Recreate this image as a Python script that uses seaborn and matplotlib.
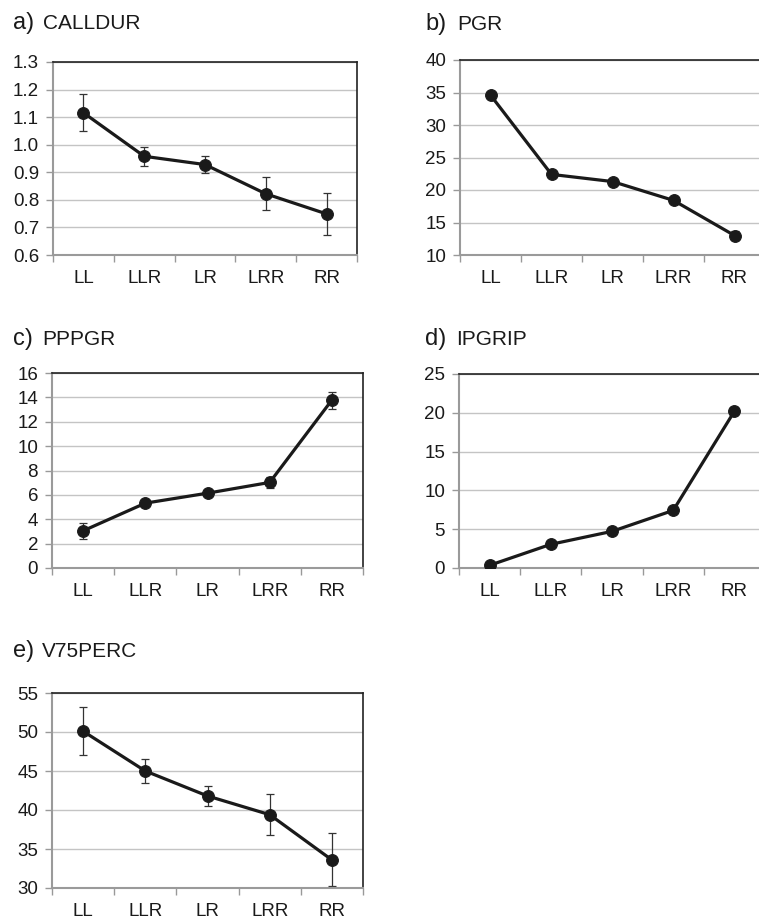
import numpy as np
import pandas as pd
import matplotlib
matplotlib.use("Agg")
import matplotlib.pyplot as plt
import seaborn as sns

sns.set_style("white")
plt.rcParams['font.family'] = ['Liberation Sans', 'DejaVu Sans']

# data (group means and error bar half-widths)
groups = ['LL', 'LLR', 'LR', 'LRR', 'RR']

calldur = [1.116, 0.958, 0.928, 0.822, 0.749]
calldur_err = [0.067, 0.035, 0.032, 0.060, 0.075]

pgr = [34.6, 22.4, 21.3, 18.4, 13.0]
pgr_err = [0.5, 0.3, 0.3, 0.4, 0.7]

pppgr = [3.05, 5.32, 6.14, 7.02, 13.78]
pppgr_err = [0.65, 0.25, 0.25, 0.45, 0.7]

ipgrip = [0.35, 3.05, 4.72, 7.42, 20.2]
ipgrip_err = [0.25, 0.3, 0.3, 0.35, 0.5]

v75perc = [50.1, 45.0, 41.8, 39.4, 33.6]
v75perc_err = [3.05, 1.6, 1.3, 2.6, 3.4]

W, H = 759, 919
fig = plt.figure(figsize=(W / 100, H / 100), dpi=100)

# letter, name, values, errors, y limits, y step, tick format, axes box (px), title pos (px)
panels = [
    ('a)', 'CALLDUR', calldur, calldur_err, (0.6, 1.3), 0.1, '{:.1f}', (53, 62, 357, 255), (13, 43, 29)),
    ('b)', 'PGR', pgr, pgr_err, (10, 40), 5, '{:.0f}', (460, 60, 765, 255), (425, 457, 30)),
    ('c)', 'PPPGR', pppgr, pppgr_err, (0, 16), 2, '{:.0f}', (52, 373, 363, 568), (13, 42, 345)),
    ('d)', 'IPGRIP', ipgrip, ipgrip_err, (0, 25), 5, '{:.0f}', (459, 374, 765, 568), (425, 456, 345)),
    ('e)', 'V75PERC', v75perc, v75perc_err, (30, 55), 5, '{:.0f}', (52, 693, 363, 888), (13, 42, 657)),
]

for letter, name, vals, errs, ylim, step, fmt, box, tpos in panels:
    l, t, r, b = box
    ax = fig.add_axes([l / W, 1 - b / H, (r - l) / W, (b - t) / H])
    df = pd.DataFrame({'x': np.arange(len(groups)), 'y': vals, 'err': errs})

    ax.errorbar(df['x'], df['y'], yerr=df['err'], fmt='none', ecolor='#333333',
                elinewidth=0.9, capsize=3, capthick=0.9, zorder=2)
    sns.lineplot(data=df, x='x', y='y', ax=ax, color='#1a1a1a', linewidth=2.3,
                 marker='o', markersize=8.5, markeredgecolor='#1a1a1a', zorder=3)

    ax.set_xlim(-0.5, len(groups) - 0.5)
    ax.set_ylim(*ylim)
    yt = np.arange(ylim[0], ylim[1] + step / 2, step)
    ax.set_yticks(yt)
    ax.set_yticklabels([fmt.format(v) for v in yt])
    ax.yaxis.grid(True, color='#c4c4c4', linewidth=1.0)
    ax.set_axisbelow(True)

    ax.set_xticks(np.arange(-0.5, len(groups), 1.0))
    ax.set_xticklabels([])
    ax.set_xticks(np.arange(len(groups)), minor=True)
    ax.set_xticklabels(groups, minor=True)
    ax.tick_params(axis='x', which='major', direction='out', length=5, width=1,
                   color='#999999', bottom=True)
    ax.tick_params(axis='x', which='minor', length=0, pad=11, labelsize=13.5,
                   labelcolor='#1a1a1a')
    ax.tick_params(axis='y', direction='out', length=5, width=1, color='#999999',
                   left=True, pad=5, labelsize=13.5, labelcolor='#1a1a1a')
    ax.set_xlabel('')
    ax.set_ylabel('')

    for side in ['left', 'bottom']:
        ax.spines[side].set_color('#9a9a9a')
        ax.spines[side].set_linewidth(1.5)
    for side in ['top', 'right']:
        ax.spines[side].set_color('#222222')
        ax.spines[side].set_linewidth(1.2)
    if ax.get_legend():
        ax.get_legend().remove()

    xl, xn, yb = tpos
    fig.text(xl / W, 1 - yb / H, letter, fontsize=17, va='baseline', ha='left', color='#1a1a1a')
    fig.text(xn / W, 1 - yb / H, name, fontsize=15, va='baseline', ha='left', color='#1a1a1a')

fig.savefig('out.png', dpi=100)
